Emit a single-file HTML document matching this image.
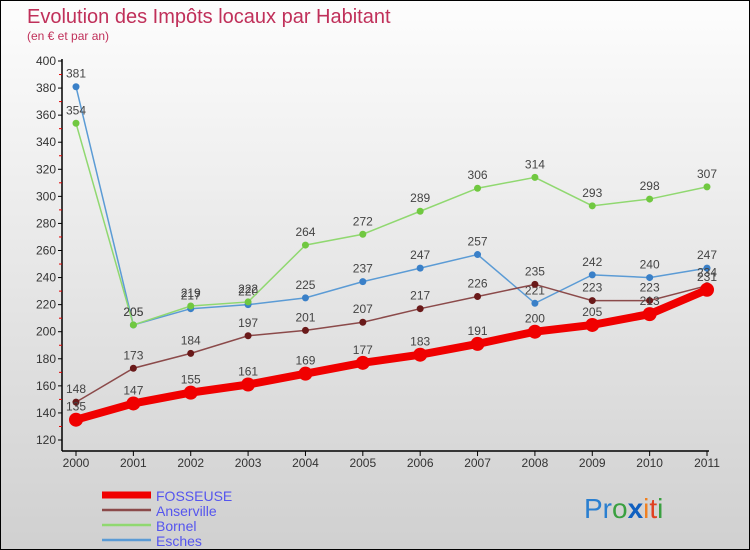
<!DOCTYPE html>
<html><head><meta charset="utf-8"><style>
body{margin:0}
#c{width:750px;height:550px;position:relative;box-sizing:border-box;border:1px solid #000;background:linear-gradient(#fdfdfd,#d0d0d0);font-family:"Liberation Sans",sans-serif;overflow:hidden}
</style></head><body>
<div id="c">
<svg id="s" width="750" height="550" style="position:absolute;left:0;top:0">
<text x="26" y="22" font-size="20" fill="#c0305a">Evolution des Impôts locaux par Habitant</text>
<text x="26" y="39" font-size="12" fill="#c0305a">(en € et par an)</text>
<g id="g"></g>
<text x="583" y="517" font-size="28" fill="#2a7fd0">Pr<tspan fill="#3aa040">o</tspan><tspan fill="#1060c0" font-weight="bold">x</tspan><tspan fill="#f08020">i</tspan><tspan fill="#e04020">t</tspan><tspan fill="#3aa040">i</tspan></text>
</svg>
</div>
<script>
const years=["2000","2001","2002","2003","2004","2005","2006","2007","2008","2009","2010","2011"];
const fosseuse=[135,147,155,161,169,177,183,191,200,205,213,231];
const esches=[381,205,217,220,225,237,247,257,221,242,240,247];
const bornel=[354,205,219,222,264,272,289,306,314,293,298,307];
const anserville=[148,173,184,197,201,207,217,226,235,223,223,234];
const yTicks=[120,140,160,180,200,220,240,260,280,300,320,340,360,380,400];
const series=[
 {name:"Esches",data:esches,c:"#5b9bd5",d:"#3a80c8",w:1.5,r:3.5},
 {name:"Bornel",data:bornel,c:"#90d870",d:"#70c840",w:1.5,r:3.5},
 {name:"Anserville",data:anserville,c:"#8b4a4a",d:"#6a1a1a",w:1.5,r:3.5},
 {name:"FOSSEUSE",data:fosseuse,c:"#f00000",d:"#f00000",w:8,r:7}];
const X=i=>75+i*(706-75)/11, Y=v=>60+(400-v)*(379/280);
const g=document.getElementById('g'),NS="http://www.w3.org/2000/svg";
function el(t,a,n){const e=document.createElementNS(NS,t);for(const k in a)e.setAttribute(k,a[k]);g.appendChild(e);return e;}
el('line',{x1:61,y1:58,x2:61,y2:450,stroke:"#000","stroke-width":1.5},'y-axis');
el('line',{x1:61,y1:450,x2:708,y2:450,stroke:"#000","stroke-width":1.5},'x-axis');
yTicks.forEach(v=>{const y=Y(v);
 el('line',{x1:57,y1:y,x2:61,y2:y,stroke:"#000"},'y-tick');
 const t=el('text',{x:55,y:y+4,"font-size":12,fill:"#333","text-anchor":"end"},'y-tick-label');t.textContent=v;
 if(v<400)el('line',{x1:58,y1:Y(v+10),x2:61,y2:Y(v+10),stroke:"#e00000"},'y-minor-tick');});
years.forEach((yr,i)=>{const x=X(i);
 el('line',{x1:x,y1:450,x2:x,y2:455,stroke:"#000"},'x-tick');
 const t=el('text',{x:x,y:466,"font-size":12,fill:"#333","text-anchor":"middle"},'x-tick-label');t.textContent=yr;});
series.forEach(s=>{
 el('polyline',{points:s.data.map((v,i)=>X(i)+","+Y(v)).join(" "),fill:"none",stroke:s.c,"stroke-width":s.w},'line-'+s.name.toLowerCase());
 s.data.forEach((v,i)=>{el('circle',{cx:X(i),cy:Y(v),r:s.r,fill:s.d},'point-'+s.name.toLowerCase());
  const t=el('text',{x:X(i),y:Y(v)-9,"font-size":12,fill:"#444","text-anchor":"middle"},'value-label');t.textContent=v;});
});
series.slice().reverse().forEach((s,k)=>{const y=494+k*15;
 el('line',{x1:101,y1:y,x2:150,y2:y,stroke:s.c,"stroke-width":s.name=="FOSSEUSE"?7:2.5},'legend-swatch');
 const t=el('text',{x:155,y:y+6,"font-size":14,fill:"#5555ee"},'legend-entry');t.textContent=s.name;});
</script>
</body></html>
